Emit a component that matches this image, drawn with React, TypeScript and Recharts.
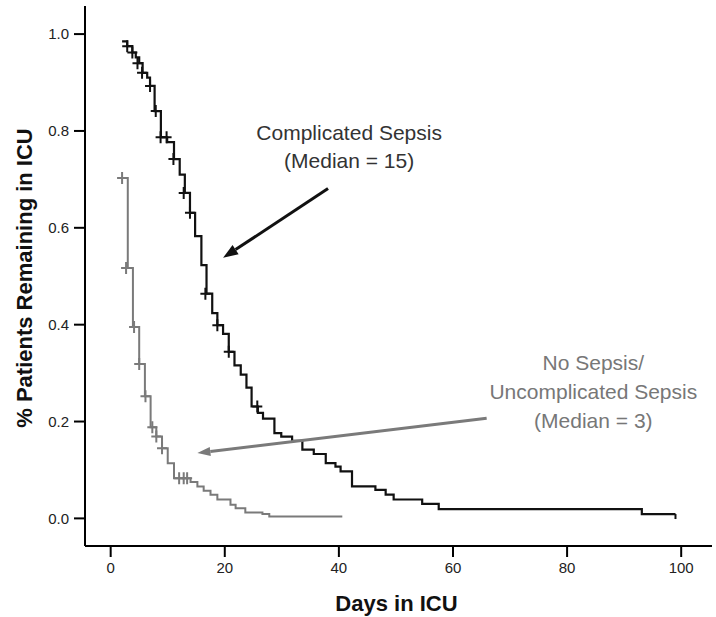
import React from "react";
import {
  ComposedChart,
  Line,
  Scatter,
  XAxis,
  YAxis,
  ReferenceLine,
  ReferenceDot,
} from "recharts";

// Complicated Sepsis (black) Kaplan-Meier steps
const compDays = [2, 2.9, 3.8, 4.4, 5.0, 5.6, 6.4, 6.9, 7.7, 8.8, 9.9, 11.1, 12.1, 13.0, 13.9, 14.8, 15.9, 16.8, 17.8, 18.7, 19.7, 20.7, 21.7, 22.8, 23.8, 24.7, 25.8, 26.7, 28.7, 29.9, 31.8, 33.6, 35.6, 37.7, 39.4, 40.3, 42.3, 46.4, 48.2, 49.6, 54.6, 57.5, 93.1, 99];
const compSurv = [0.985, 0.975, 0.962, 0.952, 0.94, 0.92, 0.91, 0.893, 0.841, 0.787, 0.777, 0.742, 0.71, 0.672, 0.631, 0.583, 0.523, 0.464, 0.424, 0.399, 0.381, 0.344, 0.316, 0.297, 0.27, 0.231, 0.218, 0.206, 0.176, 0.169, 0.16, 0.142, 0.133, 0.114, 0.107, 0.097, 0.066, 0.059, 0.049, 0.039, 0.03, 0.019, 0.009, 0.009];
const compCensDays = [2.9, 3.8, 4.7, 5.5, 6.9, 7.9, 8.75, 9.8, 11.0, 12.8, 13.9, 16.6, 18.7, 20.7, 25.7];
const compCensSurv = [0.975, 0.962, 0.94, 0.92, 0.893, 0.841, 0.787, 0.787, 0.742, 0.672, 0.631, 0.464, 0.399, 0.344, 0.231];
const compEndDays = [99];
const compEndSurv = [0.009];

// No Sepsis / Uncomplicated Sepsis (gray)
const noDays = [2, 3, 3.9, 5, 6, 7, 8, 9, 10, 11.1, 14, 15.2, 16.3, 17.5, 18.7, 21, 21.9, 23.6, 26.6, 27.8, 40.6];
const noSurv = [0.703, 0.517, 0.395, 0.319, 0.252, 0.188, 0.169, 0.145, 0.114, 0.083, 0.075, 0.066, 0.057, 0.049, 0.039, 0.028, 0.021, 0.012, 0.009, 0.004, 0.004];
const noCensDays = [2, 2.7, 4.1, 5, 6.1, 7.3, 8, 9, 12, 12.8, 13.4];
const noCensSurv = [0.703, 0.517, 0.395, 0.319, 0.252, 0.188, 0.169, 0.145, 0.083, 0.083, 0.083];

const xTicks = [0, 20, 40, 60, 80, 100];
const yTicks = [0, 0.2, 0.4, 0.6, 0.8, 1.0];

const compLabel = ["Complicated Sepsis", "(Median = 15)"];
const noLabel = ["No Sepsis/", "Uncomplicated Sepsis", "(Median = 3)"];

const zip = (d: number[], v: number[]) => d.map((day, i) => ({ day, v: v[i] }));
const compData = zip(compDays, compSurv);
const noData = zip(noDays, noSurv);
const compCens = zip(compCensDays, compCensSurv);
const compEnd = zip(compEndDays, compEndSurv);
const noCens = zip(noCensDays, noCensSurv);

const FONT = "'Liberation Sans', Arial, sans-serif";
const BLACK = "#111";
const GRAY = "#7a7a7a";

const cross = (color: string) => (p: any) => (
  <path
    d={`M${p.cx - 5},${p.cy}h10M${p.cx},${p.cy - 6}v12`}
    stroke={color}
    strokeWidth={2}
    fill="none"
  />
);

const downTick = (color: string) => (p: any) => (
  <path d={`M${p.cx},${p.cy}v5`} stroke={color} strokeWidth={2} fill="none" />
);

const arrow = (color: string, width: number, headLen: number, headW: number) => (p: any) => {
  const { x1, y1, x2, y2 } = p;
  const dx = x2 - x1;
  const dy = y2 - y1;
  const len = Math.sqrt(dx * dx + dy * dy);
  const ux = dx / len;
  const uy = dy / len;
  const bx = x2 - ux * headLen;
  const by = y2 - uy * headLen;
  const px = -uy * headW / 2;
  const py = ux * headW / 2;
  return (
    <g>
      <line x1={x1} y1={y1} x2={bx} y2={by} stroke={color} strokeWidth={width} />
      <polygon
        points={`${x2},${y2} ${bx + px},${by + py} ${bx - px},${by - py}`}
        fill={color}
      />
    </g>
  );
};

const textShape = (txt: string, color: string) => (p: any) => (
  <text
    x={p.cx}
    y={p.cy}
    textAnchor="middle"
    fontFamily={FONT}
    fontSize={21}
    fill={color}
  >
    {txt}
  </text>
);

export default function App() {
  return (
    <div style={{ position: "absolute", left: 0, top: 0, background: "#fff" }}>
      <ComposedChart
        width={716}
        height={617}
        margin={{ top: 6, right: 4, bottom: 21, left: 25 }}
      >
        <XAxis
          dataKey="day"
          type="number"
          domain={[-4.5, 105.4]}
          ticks={xTicks}
          allowDataOverflow
          height={50}
          tickSize={11}
          tickMargin={5}
          axisLine={{ stroke: "#000", strokeWidth: 2 }}
          tickLine={{ stroke: "#000", strokeWidth: 2 }}
          tick={{ fill: "#222", fontSize: 15, fontFamily: FONT }}
          label={{
            content: (props: any) => {
              const vb = props.viewBox;
              return (
                <text
                  x={vb.x + vb.width / 2 - 2}
                  y={611}
                  textAnchor="middle"
                  fontFamily={FONT}
                  fontWeight="bold"
                  fontSize={22}
                  fill="#111"
                >
                  Days in ICU
                </text>
              );
            },
          }}
        />
        <YAxis
          type="number"
          domain={[-0.057, 1.058]}
          ticks={yTicks}
          allowDataOverflow
          width={60}
          tickSize={11}
          tickMargin={5}
          tickFormatter={(v: number) => v.toFixed(1)}
          axisLine={{ stroke: "#000", strokeWidth: 2 }}
          tickLine={{ stroke: "#000", strokeWidth: 2 }}
          tick={{ fill: "#222", fontSize: 15, fontFamily: FONT }}
          label={{
            content: (props: any) => {
              const vb = props.viewBox;
              const cx = 24;
              const cy = vb.y + vb.height / 2 + 2;
              return (
                <text
                  x={cx}
                  y={cy}
                  transform={`rotate(-90, ${cx}, ${cy})`}
                  textAnchor="middle"
                  dominantBaseline="central"
                  fontFamily={FONT}
                  fontWeight="bold"
                  fontSize={22}
                  fill="#111"
                >
                  % Patients Remaining in ICU
                </text>
              );
            },
          }}
        />
        <Line
          data={noData}
          dataKey="v"
          type="stepAfter"
          stroke={GRAY}
          strokeWidth={2}
          dot={false}
          isAnimationActive={false}
        />
        <Line
          data={compData}
          dataKey="v"
          type="stepAfter"
          stroke={BLACK}
          strokeWidth={2.2}
          dot={false}
          isAnimationActive={false}
        />
        <Scatter data={noCens} dataKey="v" shape={cross(GRAY)} isAnimationActive={false} />
        <Scatter data={compCens} dataKey="v" shape={cross(BLACK)} isAnimationActive={false} />
        <Scatter data={compEnd} dataKey="v" shape={downTick(BLACK)} isAnimationActive={false} />
        <ReferenceLine
          segment={[{ x: 38.1, y: 0.681 }, { x: 19.7, y: 0.538 }]}
          shape={arrow(BLACK, 3, 15, 11)}
        />
        <ReferenceLine
          segment={[{ x: 65.9, y: 0.207 }, { x: 15.2, y: 0.135 }]}
          shape={arrow(GRAY, 3, 13, 9)}
        />
        <ReferenceDot x={41.8} y={0.781} r={0} shape={textShape(compLabel[0], "#333")} />
        <ReferenceDot x={41.8} y={0.723} r={0} shape={textShape(compLabel[1], "#333")} />
        <ReferenceDot x={84.6} y={0.306} r={0} shape={textShape(noLabel[0], "#777")} />
        <ReferenceDot x={84.6} y={0.246} r={0} shape={textShape(noLabel[1], "#777")} />
        <ReferenceDot x={84.6} y={0.186} r={0} shape={textShape(noLabel[2], "#777")} />
      </ComposedChart>
    </div>
  );
}
